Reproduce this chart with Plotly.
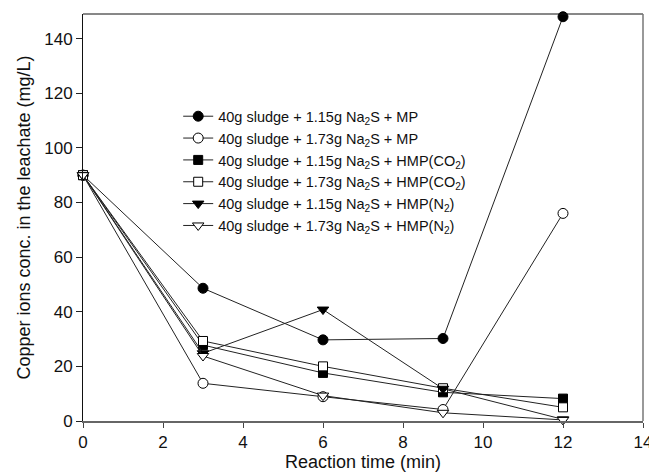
import plotly.graph_objects as go

time_min = [0, 3, 6, 9, 12]
names = [
    "40g sludge + 1.15g Na<sub>2</sub>S + MP",
    "40g sludge + 1.73g Na<sub>2</sub>S + MP",
    "40g sludge + 1.15g Na<sub>2</sub>S + HMP(CO<sub>2</sub>)",
    "40g sludge + 1.73g Na<sub>2</sub>S + HMP(CO<sub>2</sub>)",
    "40g sludge + 1.15g Na<sub>2</sub>S + HMP(N<sub>2</sub>)",
    "40g sludge + 1.73g Na<sub>2</sub>S + HMP(N<sub>2</sub>)",
]
mp_115 = [90, 48.6, 29.7, 30.2, 148]
mp_173 = [90, 13.8, 8.9, 4.2, 76]
hmpco2_115 = [90, 27.8, 17.6, 10.5, 8.2]
hmpco2_173 = [90, 29.3, 20.0, 12.0, 5.0]
hmpn2_115 = [90, 24.8, 40.8, 11.8, 0.6]
hmpn2_173 = [90, 23.8, 9.3, 3.0, 0.4]

series = [mp_115, mp_173, hmpco2_115, hmpco2_173, hmpn2_115, hmpn2_173]
symbols = ["circle", "circle-open", "square", "square-open",
           "triangle-down", "triangle-down-open"]

fig = go.Figure()
for nm, ys, sym in zip(names, series, symbols):
    is_open = sym.endswith("open")
    base = sym.replace("-open", "")
    fig.add_trace(go.Scatter(
        x=time_min, y=ys, name=nm, mode="lines+markers",
        line=dict(color="#222222", width=1),
        marker=dict(symbol=base, size=10 if base != "square" else 9,
                    color="white" if is_open else "black",
                    line=dict(color="black", width=1)),
        cliponaxis=False,
    ))

# frame: top black, right gray (as in the reference)
fig.add_shape(type="line", xref="paper", yref="paper", x0=0, x1=1, y0=1, y1=1,
              line=dict(color="#111111", width=1))
fig.add_shape(type="line", xref="paper", yref="paper", x0=1, x1=1, y0=0, y1=1,
              line=dict(color="#777777", width=1.5))

font = "Liberation Sans, Arial, sans-serif"
# the page body adds an 8px offset, so the figure is 8px smaller than the window
fig.update_layout(
    template="none",
    width=649, height=467,
    margin=dict(l=75, r=14, t=6, b=54, autoexpand=False),
    paper_bgcolor="white", plot_bgcolor="white",
    font=dict(family=font, color="#111111", size=17),
    legend=dict(x=0.170, y=0.788, xanchor="left", yanchor="top",
                font=dict(size=14.5, family=font, color="#111111"),
                bgcolor="rgba(0,0,0,0)", itemwidth=30,
                tracegroupgap=0),
    xaxis=dict(range=[0, 14], tickvals=[0, 2, 4, 6, 8, 10, 12, 14],
               showgrid=False, zeroline=False, showline=True, mirror=False,
               linecolor="#666666", linewidth=1.5, ticks="outside", ticklen=5,
               tickcolor="#444444", automargin=False,
               tickfont=dict(size=17),
               title=dict(text="Reaction time (min)", font=dict(size=18), standoff=2)),
    yaxis=dict(range=[0, 149], tickvals=[0, 20, 40, 60, 80, 100, 120, 140],
               showgrid=False, zeroline=False, showline=True, mirror=False,
               linecolor="#111111", linewidth=1, ticks="outside", ticklen=6,
               tickcolor="#222222", automargin=False,
               tickfont=dict(size=17),
               title=dict(text="Copper ions conc. in the leachate (mg/L)",
                          font=dict(size=18), standoff=8)),
)
fig.write_html("out.html")
